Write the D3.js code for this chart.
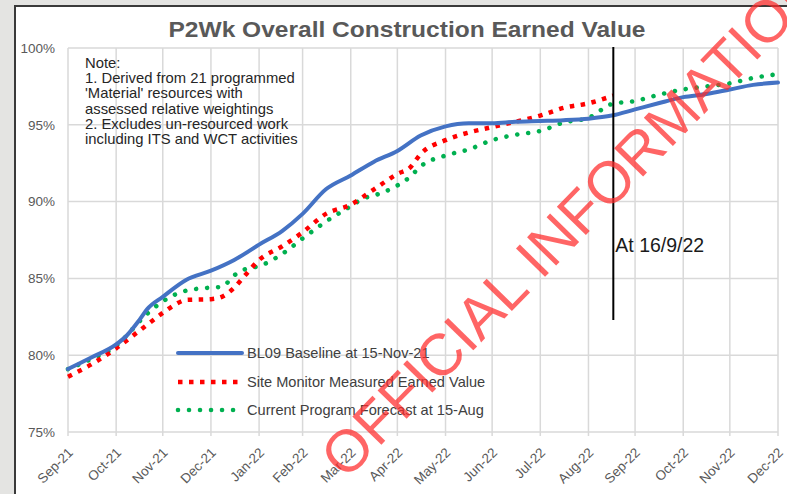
<!DOCTYPE html>
<html>
<head>
<meta charset="utf-8">
<script src="https://cdn.jsdelivr.net/npm/d3@7"></script>
<style>
  html, body { margin: 0; padding: 0; background: #e6e6e4; }
  svg { display: block; font-family: "Liberation Sans", Arial, sans-serif; }
</style>
</head>
<body>
<svg id="chart" width="787" height="494"></svg>
<script>
// ---------------- data ----------------
const chartTitle = "P2Wk Overall Construction Earned Value";

const xTickDates = ["2021-09-30","2021-10-31","2021-11-30","2021-12-31","2022-01-31","2022-02-28",
  "2022-03-31","2022-04-30","2022-05-31","2022-06-30","2022-07-31","2022-08-31",
  "2022-09-30","2022-10-31","2022-11-30","2022-12-31"];
const xTickLabels = ["Sep-21","Oct-21","Nov-21","Dec-21","Jan-22","Feb-22","Mar-22","Apr-22",
  "May-22","Jun-22","Jul-22","Aug-22","Sep-22","Oct-22","Nov-22","Dec-22"];
const yTicks = [75, 80, 85, 90, 95, 100];

const baselineDates = ["2021-09-30","2021-10-15","2021-10-31","2021-11-07","2021-11-15","2021-11-20",
  "2021-11-30","2021-12-15","2021-12-31","2022-01-15","2022-01-31","2022-02-15","2022-02-28",
  "2022-03-15","2022-03-31","2022-04-15","2022-04-30","2022-05-15","2022-05-31","2022-06-15",
  "2022-06-30","2022-07-15","2022-07-31","2022-08-15","2022-08-31","2022-09-15","2022-09-30",
  "2022-10-15","2022-10-31","2022-11-15","2022-11-30","2022-12-15","2022-12-31"];
const baselineValues = [79.1,79.85,80.7,81.3,82.3,83.0,
  83.8,84.9,85.5,86.2,87.2,88.1,89.2,
  90.8,91.7,92.6,93.3,94.3,94.9,95.1,
  95.1,95.2,95.25,95.3,95.4,95.6,96.0,
  96.4,96.8,97.0,97.3,97.6,97.75];

const measuredDates = ["2021-09-30","2021-10-15","2021-10-31","2021-11-15","2021-11-30","2021-12-08",
  "2021-12-15","2021-12-31","2022-01-07","2022-01-15","2022-01-22","2022-01-31","2022-02-15",
  "2022-02-28","2022-03-15","2022-03-31","2022-04-15","2022-04-30","2022-05-08","2022-05-15",
  "2022-05-31","2022-06-15","2022-06-30","2022-07-15","2022-07-31","2022-08-15","2022-08-31",
  "2022-09-16"];
const measuredValues = [78.6,79.4,80.45,81.6,82.75,83.3,
  83.6,83.65,83.8,84.4,85.2,86.2,87.1,
  88.0,89.2,89.8,90.8,91.8,92.2,93.1,
  94.0,94.5,94.85,95.2,95.6,96.1,96.4,
  96.9];

const forecastDates = ["2021-09-30","2021-10-15","2021-10-31","2021-11-07","2021-11-15","2021-11-20",
  "2021-11-30","2021-12-15","2021-12-31","2022-01-07","2022-01-15","2022-01-22","2022-01-31",
  "2022-02-15","2022-02-28","2022-03-15","2022-03-31","2022-04-08","2022-04-15","2022-04-30",
  "2022-05-08","2022-05-15","2022-05-31","2022-06-15","2022-06-30","2022-07-15","2022-07-31",
  "2022-08-15","2022-08-31","2022-09-15","2022-09-30","2022-10-15","2022-10-31","2022-11-15",
  "2022-11-30","2022-12-15","2022-12-31"];
const forecastValues = [79.1,79.75,80.6,81.3,82.2,82.7,
  83.5,84.2,84.4,84.45,85.2,85.6,85.8,
  86.6,87.6,88.7,89.7,90.2,90.4,91.05,
  91.6,92.3,93.0,93.4,94.0,94.35,94.6,
  95.15,95.45,96.35,96.55,96.95,97.3,97.5,
  97.7,98.05,98.3];

const seriesNames = ["BL09 Baseline at 15-Nov-21","Site Monitor Measured Earned Value","Current Program Forecast at 15-Aug"];
const noteLines = ["Note:","1. Derived from 21 programmed","'Material' resources with",
  "assessed relative weightings","2. Excludes un-resourced work","including ITS and WCT activities"];
const markerDate = "2022-09-16";
const markerLabel = "At 16/9/22";
const watermarkText = "OFFICIAL INFORMATION";

// ---------------- drawing ----------------
const parse = d3.utcParse("%Y-%m-%d");
const svg = d3.select("#chart");
const W = 787, H = 494;
const plot = {left: 68, right: 778, top: 48, bottom: 432};

// paper background and frame
svg.append("rect").attr("x",0).attr("y",0).attr("width",W).attr("height",H).attr("fill","#e4e4e2");
svg.append("rect").attr("x",15).attr("y",6).attr("width",W).attr("height",H)
  .attr("fill","#ffffff").attr("stroke","#3a3a3a").attr("stroke-width",2);

const x = d3.scaleUtc().domain([parse(xTickDates[0]), parse(xTickDates[xTickDates.length-1])])
  .range([plot.left, plot.right]);
const y = d3.scaleLinear().domain([75,100]).range([plot.bottom, plot.top]);

// gridlines
const grid = svg.append("g").attr("stroke","#d9d9d9").attr("stroke-width",1.5);
grid.selectAll("line.h").data(yTicks).join("line")
  .attr("x1",plot.left).attr("x2",plot.right).attr("y1",d=>y(d)).attr("y2",d=>y(d));
grid.selectAll("line.v").data(xTickDates).join("line")
  .attr("x1",d=>x(parse(d))).attr("x2",d=>x(parse(d))).attr("y1",plot.top).attr("y2",plot.bottom+4);

// y axis labels
const yAxis = d3.axisLeft(y).tickValues(yTicks).tickFormat(d=>d+"%").tickSize(0).tickPadding(13);
const gy = svg.append("g").attr("transform",`translate(${plot.left},0)`).call(yAxis);
gy.select(".domain").remove();
gy.selectAll("text").attr("font-size",13.5).attr("fill","#595959")
  .attr("font-family","'Liberation Sans', Arial, sans-serif");

// x axis labels
const xAxis = d3.axisBottom(x).tickValues(xTickDates.map(parse))
  .tickFormat((d,i)=>xTickLabels[i]).tickSize(0);
const gx = svg.append("g").attr("transform",`translate(0,${plot.bottom})`).call(xAxis);
gx.select(".domain").remove();
gx.selectAll("text").attr("font-size",13.5).attr("fill","#595959")
  .attr("font-family","'Liberation Sans', Arial, sans-serif")
  .attr("text-anchor","end").attr("dy","0.35em")
  .attr("transform","translate(2,18) rotate(-45)").attr("y",0).attr("x",0);

// series
const mk = (dates, vals) => dates.map((d,i)=>({date: parse(d), v: vals[i]}));
const line = d3.line().x(d=>x(d.date)).y(d=>y(d.v)).curve(d3.curveMonotoneX);

const styles = [
  {stroke:"#4472C4", width:4, dash:null, cap:"round"},
  {stroke:"#FF0000", width:4.5, dash:"4.5,6.5", cap:"butt"},
  {stroke:"#00B050", width:4.6, dash:"0.01,11", cap:"round"}
];
const seriesData = [mk(baselineDates, baselineValues), mk(measuredDates, measuredValues), mk(forecastDates, forecastValues)];

[2,1,0].forEach(i=>{
  svg.append("path").datum(seriesData[i]).attr("d",line).attr("fill","none")
    .attr("stroke",styles[i].stroke).attr("stroke-width",styles[i].width)
    .attr("stroke-dasharray",styles[i].dash).attr("stroke-linecap",styles[i].cap)
    .attr("stroke-linejoin","round");
});

// note
const note = svg.append("text").attr("x",85).attr("y",68).attr("font-size",14.8).attr("fill","#262626");
noteLines.forEach((t,i)=>note.append("tspan").attr("x",85).attr("dy",i===0?0:15.2).text(t));

// legend
const legY = [353, 382, 410];
seriesNames.forEach((name,i)=>{
  svg.append("line").attr("x1",178).attr("x2",242).attr("y1",legY[i]).attr("y2",legY[i])
    .attr("stroke",styles[i].stroke).attr("stroke-width",styles[i].width)
    .attr("stroke-dasharray",styles[i].dash).attr("stroke-linecap",styles[i].cap);
  svg.append("text").attr("x",247).attr("y",legY[i]).attr("dy","0.35em")
    .attr("font-size",14.6).attr("fill","#404040").text(name);
});

// marker line
const mx = x(parse(markerDate));
svg.append("line").attr("x1",mx).attr("x2",mx).attr("y1",47).attr("y2",320)
  .attr("stroke","#000").attr("stroke-width",2);
svg.append("text").attr("x",mx+2).attr("y",245).attr("dy","0.35em")
  .attr("font-size",19.5).attr("fill","#1a1a1a").text(markerLabel);

// title
svg.append("text").attr("x",407).attr("y",37).attr("text-anchor","middle")
  .attr("font-size",22).attr("font-weight","bold").attr("fill","#595959")
  .attr("textLength",477).attr("lengthAdjust","spacingAndGlyphs").text(chartTitle);

// watermark
svg.append("text").attr("transform","translate(346,481) rotate(-45.7)")
  .attr("font-size",59).attr("fill","#ff2a2a").attr("fill-opacity",0.72)
  .text(watermarkText);
</script>
</body>
</html>
